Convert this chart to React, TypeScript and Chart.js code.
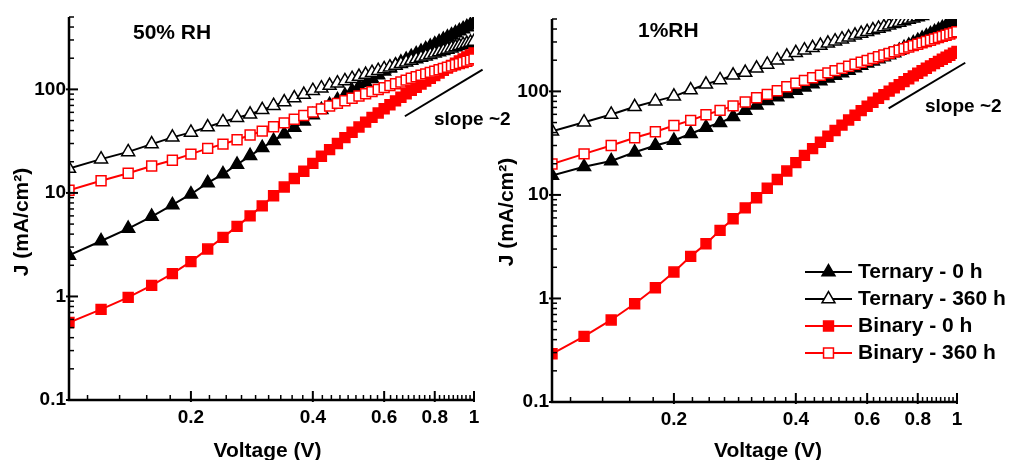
import React, { useEffect, useRef } from 'react';
import { Chart, registerables } from 'chart.js';

Chart.register(...registerables);

const FONT = "'Liberation Sans', Arial, Helvetica, sans-serif";

// ---------- data ----------
const VOLTAGE = [
  0.10, 0.12, 0.14, 0.16, 0.18, 0.20, 0.22, 0.24, 0.26, 0.28,
  0.30, 0.32, 0.34, 0.36, 0.38, 0.40, 0.42, 0.44, 0.46, 0.48,
  0.50, 0.52, 0.54, 0.56, 0.58, 0.60, 0.62, 0.64, 0.66, 0.68,
  0.70, 0.72, 0.74, 0.76, 0.78, 0.80, 0.82, 0.84, 0.86, 0.88,
  0.90, 0.92, 0.94, 0.96, 0.98, 1.00,
];

const X_TICKS = [0.2, 0.4, 0.6, 0.8, 1];
const Y_TICKS = [0.1, 1, 10, 100];

const SERIES_LABELS = ['Ternary - 0 h', 'Ternary - 360 h', 'Binary - 0 h', 'Binary - 360 h'];

// 50% RH panel
const RH50_TERNARY_0H = [
  2.49, 3.43, 4.52, 5.91, 7.65, 9.71, 12.5, 15.2, 18.8, 22.8,
  27.3, 31.9, 37.0, 42.8, 49.3, 56.5, 63.5, 71.0, 79.0, 87.5,
  96.5, 106, 116, 126.6, 137.7, 149.4, 160, 171, 182.5, 194.3,
  206.5, 219, 232, 245, 259, 273, 287.5, 302.5, 318, 334,
  350, 366.5, 383.5, 401, 418.5, 436.5,
];
const RH50_TERNARY_360H = [
  17.2, 21.2, 24.9, 29.6, 34.4, 38.4, 43.3, 48.5, 53.3, 57.5,
  63.4, 69.5, 75.5, 82.5, 89, 97, 102.8, 108.7, 114.7, 120.7,
  126.7, 132.8, 138.9, 145.1, 151.4, 157.6, 163.9, 170.3, 176.7, 183.2,
  189.7, 196.2, 202.7, 209.3, 216, 222.7, 229.4, 236, 242.8, 249.6,
  256.4, 263.2, 270, 276.9, 283.8, 290.7,
];
const RH50_BINARY_0H = [
  0.56, 0.75, 0.98, 1.28, 1.66, 2.17, 2.87, 3.72, 4.75, 6.0,
  7.5, 9.4, 11.4, 13.8, 16.2, 19.3, 22.6, 26.2, 30.0, 34.2,
  38.6, 43.3, 48.3, 53.6, 59.2, 65.0, 71.1, 77.4, 84.0, 90.8,
  97.8, 105, 112.5, 120, 128, 136, 144, 152.5, 161, 170,
  179, 188, 197, 206, 215, 225,
];
const RH50_BINARY_360H = [
  10.6, 13.1, 15.5, 18.2, 20.7, 23.7, 26.9, 29.6, 32.6, 36.2,
  39.5, 43.5, 47.5, 51.5, 56.0, 60.5, 64.8, 69.0, 73.3, 77.6,
  82.0, 86.3, 90.7, 95.1, 99.6, 104, 108.6, 113.2, 117.8, 122.8,
  128, 132.4, 136.9, 141.3, 145.8, 150.2, 154.7, 159.2, 163.7, 168.2,
  172.7, 177.3, 181.9, 186.6, 191.5, 197,
];

// 1% RH panel
const RH1_TERNARY_0H = [
  15.4, 18.7, 21.3, 25.8, 30.0, 33.5, 39.0, 44.8, 49.7, 57.0,
  65.5, 73.5, 81.0, 88.0, 95.0, 102, 109.7, 117.6, 125.6, 133.9,
  142.3, 150.8, 159.5, 168.4, 177.4, 186.6, 195.9, 205.4, 215.1, 224.9,
  234.9, 248.8, 263.1, 277.8, 293, 308.5, 324.4, 340.8, 357.6, 374.8,
  392.5, 410.5, 429, 447.9, 467.2, 486.9,
];
const RH1_TERNARY_360H = [
  41.2, 50.4, 59.8, 71.0, 80.5, 89.5, 103, 117, 129, 143,
  152, 167, 182, 200, 218, 236, 249.7, 263.4, 277.1, 291,
  305, 319, 333, 347.4, 361.7, 376.2, 390.5, 405, 419.6, 434.3,
  449, 463.8, 478.6, 493.4, 508.2, 523.2, 538, 553, 568, 583,
  598, 613, 628, 643, 658, 673,
];
const RH1_BINARY_0H = [
  0.292, 0.43, 0.62, 0.89, 1.27, 1.80, 2.55, 3.38, 4.55, 5.88,
  7.5, 9.4, 11.6, 14.1, 17.0, 20.5, 24.1, 28.0, 32.3, 36.9,
  41.9, 47.2, 52.9, 58.9, 65.2, 71.8, 78.6, 85.7, 93.0, 100.5,
  108.2, 116.1, 124.2, 132.5, 141, 149.6, 158.3, 167.2, 176.3, 185.5,
  194.8, 204.2, 213.8, 223.5, 233.3, 243.4,
];
const RH1_BINARY_360H = [
  19.9, 24.9, 30.0, 35.6, 40.7, 46.8, 52.5, 59.5, 65.6, 72.5,
  79.0, 86.7, 93.5, 101.5, 111, 120, 127.6, 135.2, 142.9, 150.8,
  158.7, 166.6, 174.6, 182.8, 191, 199.2, 207.6, 215.9, 224.4, 232.9,
  241.6, 250.2, 258.9, 267.7, 276.5, 285.4, 294.2, 303.2, 312.2, 321.3,
  330.5, 339.7, 348.9, 358.1, 367.4, 376.8,
];

// ---------- styles ----------
const SERIES_STYLE = [
  { color: '#000000', fill: '#000000', shape: 'triangle', radius: 7.5, order: 4 },
  { color: '#000000', fill: '#ffffff', shape: 'triangle', radius: 7.5, order: 3 },
  { color: '#ff0000', fill: '#ff0000', shape: 'rect', radius: 7, order: 2 },
  { color: '#ff0000', fill: '#ffffff', shape: 'rect', radius: 7, order: 1 },
];

type Panel = {
  key: string;
  left: number;
  width: number;
  padding: { left: number; right: number; top: number; bottom: number };
  yAxisWidth: number;
  xAxisHeight: number;
  title: string;
  titleX: number;
  titleY: number;
  yTitleX: number;
  yTitleY: number;
  xTitleX: number;
  xTitleY: number;
  slopeFrom: [number, number];
  slopeTo: [number, number];
  slopeTextX: number;
  slopeTextY: number;
  series: number[][];
  legend: null | { x0: number; x1: number; textX: number; rows: number[] };
};

const PANELS: Panel[] = [
  {
    key: 'rh50',
    left: 0,
    width: 520,
    padding: { left: 0, right: 46, top: 17, bottom: 0 },
    yAxisWidth: 69,
    xAxisHeight: 60,
    title: '50% RH',
    titleX: 133,
    titleY: 39,
    yTitleX: 22,
    yTitleY: 222,
    xTitleX: 267.5,
    xTitleY: 457,
    slopeFrom: [0.675, 55],
    slopeTo: [1.05, 155],
    slopeTextX: 434,
    slopeTextY: 125,
    series: [RH50_TERNARY_0H, RH50_TERNARY_360H, RH50_BINARY_0H, RH50_BINARY_360H],
    legend: null,
  },
  {
    key: 'rh1',
    left: 483,
    width: 528,
    padding: { left: 0, right: 54, top: 19, bottom: 0 },
    yAxisWidth: 69,
    xAxisHeight: 58,
    title: '1%RH',
    titleX: 155,
    titleY: 37,
    yTitleX: 24,
    yTitleY: 212,
    xTitleX: 285,
    xTitleY: 457,
    slopeFrom: [0.678, 68.4],
    slopeTo: [1.048, 189],
    slopeTextX: 442,
    slopeTextY: 112,
    series: [RH1_TERNARY_0H, RH1_TERNARY_360H, RH1_BINARY_0H, RH1_BINARY_360H],
    legend: { x0: 322, x1: 369, textX: 375, rows: [272, 299, 326, 353] },
  },
];

function drawMarker(ctx: CanvasRenderingContext2D, shape: string, x: number, y: number, r: number, fill: string, stroke: string) {
  ctx.beginPath();
  if (shape === 'triangle') {
    const a = (2 * Math.PI) / 3;
    ctx.moveTo(x, y - r);
    ctx.lineTo(x + Math.sin(a) * r, y - Math.cos(a) * r);
    ctx.lineTo(x + Math.sin(2 * a) * r, y - Math.cos(2 * a) * r);
    ctx.closePath();
  } else {
    const s = r * Math.SQRT1_2;
    ctx.rect(x - s, y - s, 2 * s, 2 * s);
  }
  ctx.fillStyle = fill;
  ctx.fill();
  ctx.lineWidth = 1.5;
  ctx.strokeStyle = stroke;
  ctx.stroke();
}

function decorPlugin(panel: Panel) {
  return {
    id: 'decor_' + panel.key,
    afterDraw(chart: any) {
      const ctx: CanvasRenderingContext2D = chart.ctx;
      const ca = chart.chartArea;
      const xs = chart.scales.x;
      const ys = chart.scales.y;
      ctx.save();
      ctx.strokeStyle = '#000';
      ctx.fillStyle = '#000';
      ctx.lineCap = 'butt';

      // axis lines
      ctx.lineWidth = 2.5;
      ctx.beginPath();
      ctx.moveTo(ca.left, ca.top);
      ctx.lineTo(ca.left, ca.bottom);
      ctx.lineTo(ca.right + 1, ca.bottom);
      ctx.stroke();

      // y ticks (inward), major + minor
      for (let e = -1; e <= 2; e++) {
        for (let m = 1; m <= 9; m++) {
          const v = m * Math.pow(10, e);
          if (v > 500.0001) continue;
          const py = ys.getPixelForValue(v);
          const major = m === 1;
          ctx.lineWidth = major ? 2 : 1.5;
          ctx.beginPath();
          ctx.moveTo(ca.left - (major ? 3 : 0), py);
          ctx.lineTo(ca.left + (major ? 9 : 5), py);
          ctx.stroke();
        }
      }
      // x ticks (inward)
      for (let k = 5; k <= 45; k++) {
        const v = k / 45;
        const px = xs.getPixelForValue(v);
        const major = k % 9 === 0;
        ctx.lineWidth = major ? 2 : 1.5;
        ctx.beginPath();
        ctx.moveTo(px, ca.bottom + (major ? 2 : 0));
        ctx.lineTo(px, ca.bottom - (major ? 9 : 5));
        ctx.stroke();
      }

      // panel title
      ctx.font = `bold 21px ${FONT}`;
      ctx.textAlign = 'left';
      ctx.textBaseline = 'alphabetic';
      ctx.fillText(panel.title, panel.titleX, panel.titleY);

      // axis titles
      ctx.save();
      ctx.translate(panel.yTitleX, panel.yTitleY);
      ctx.rotate(-Math.PI / 2);
      ctx.textAlign = 'center';
      ctx.textBaseline = 'middle';
      ctx.font = `bold 21px ${FONT}`;
      ctx.fillText('J (mA/cm²)', 0, 0);
      ctx.restore();

      ctx.textAlign = 'center';
      ctx.textBaseline = 'alphabetic';
      ctx.font = `bold 21px ${FONT}`;
      ctx.fillText('Voltage (V)', panel.xTitleX, panel.xTitleY);

      // slope guide
      ctx.lineWidth = 2;
      ctx.beginPath();
      ctx.moveTo(xs.getPixelForValue(panel.slopeFrom[0]), ys.getPixelForValue(panel.slopeFrom[1]));
      ctx.lineTo(xs.getPixelForValue(panel.slopeTo[0]), ys.getPixelForValue(panel.slopeTo[1]));
      ctx.stroke();
      ctx.font = `bold 19px ${FONT}`;
      ctx.textAlign = 'left';
      ctx.fillText('slope ~2', panel.slopeTextX, panel.slopeTextY);

      // legend
      if (panel.legend) {
        const lg = panel.legend;
        SERIES_LABELS.forEach((label, i) => {
          const st = SERIES_STYLE[i];
          const y = lg.rows[i];
          ctx.strokeStyle = st.color;
          ctx.lineWidth = 2;
          ctx.beginPath();
          ctx.moveTo(lg.x0, y);
          ctx.lineTo(lg.x1, y);
          ctx.stroke();
          drawMarker(ctx, st.shape, (lg.x0 + lg.x1) / 2, y, st.radius, st.fill, st.color);
          ctx.fillStyle = '#000';
          ctx.font = `bold 21px ${FONT}`;
          ctx.textAlign = 'left';
          ctx.textBaseline = 'middle';
          ctx.fillText(label, lg.textX, y);
        });
      }
      ctx.restore();
    },
  };
}

function PanelChart({ panel }: { panel: Panel }) {
  const ref = useRef<HTMLCanvasElement>(null);
  useEffect(() => {
    if (!ref.current) return;
    const tickFont = { family: FONT, size: 19, weight: 'bold' as const };
    const chart = new Chart(ref.current, {
      type: 'line',
      data: {
        datasets: panel.series.map((vals, i) => {
          const st = SERIES_STYLE[i];
          return {
            label: SERIES_LABELS[i],
            data: VOLTAGE.map((v, j) => ({ x: v, y: vals[j] })),
            borderColor: st.color,
            backgroundColor: st.fill,
            borderWidth: 2,
            pointStyle: st.shape as any,
            pointRadius: st.radius,
            pointBorderWidth: 1.5,
            pointBackgroundColor: st.fill,
            pointBorderColor: st.color,
            fill: false,
            tension: 0,
            clip: 0,
            order: st.order,
          };
        }),
      },
      options: {
        responsive: false,
        animation: false,
        devicePixelRatio: 1,
        events: [],
        layout: { padding: panel.padding },
        plugins: { legend: { display: false }, tooltip: { enabled: false } },
        scales: {
          x: {
            type: 'logarithmic',
            position: 'bottom',
            min: 0.1,
            max: 1,
            afterFit: (s: any) => {
              s.height = panel.xAxisHeight;
            },
            afterBuildTicks: (s: any) => {
              s.ticks = X_TICKS.map((value) => ({ value }));
            },
            grid: { display: false, drawTicks: false },
            border: { display: false },
            ticks: {
              autoSkip: false,
              maxRotation: 0,
              minRotation: 0,
              padding: 6,
              color: '#000',
              font: tickFont,
              callback: (v: any) => String(v),
            },
          },
          y: {
            type: 'logarithmic',
            min: 0.1,
            max: 500,
            afterFit: (s: any) => {
              s.width = panel.yAxisWidth;
            },
            afterBuildTicks: (s: any) => {
              s.ticks = Y_TICKS.map((value) => ({ value }));
            },
            grid: { display: false, drawTicks: false },
            border: { display: false },
            ticks: {
              autoSkip: false,
              padding: 3,
              color: '#000',
              font: tickFont,
              callback: (v: any) => String(v),
            },
          },
        },
      } as any,
      plugins: [decorPlugin(panel)],
    });
    return () => chart.destroy();
  }, [panel]);
  return (
    <canvas
      ref={ref}
      width={panel.width}
      height={460}
      style={{ position: 'absolute', left: panel.left, top: 0, width: panel.width, height: 460 }}
    />
  );
}

export default function App() {
  return (
    <div
      style={{
        position: 'fixed',
        left: 0,
        top: 0,
        width: 1011,
        height: 460,
        overflow: 'hidden',
        background: '#ffffff',
      }}
    >
      {PANELS.map((p) => (
        <PanelChart key={p.key} panel={p} />
      ))}
    </div>
  );
}
